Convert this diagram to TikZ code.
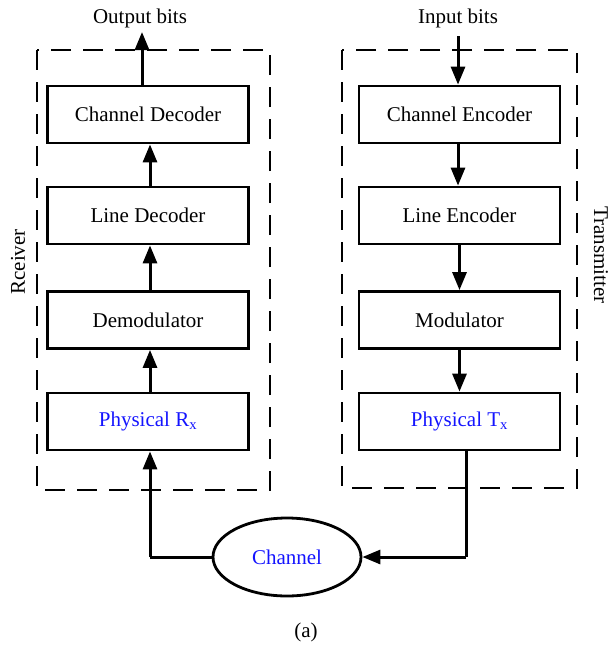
\documentclass[tikz,border=0pt]{standalone}
\usepackage{fontspec}
\setmainfont{Liberation Serif}
\usetikzlibrary{arrows.meta,shapes.geometric}
\definecolor{lblue}{RGB}{20,20,255}
\begin{document}
\begin{tikzpicture}[x=1pt,y=-1pt,
  blk/.style={draw,line width=2.8pt,minimum width=201pt,minimum height=57pt,inner sep=0pt,font=\fontsize{21}{24}\selectfont},
  grp/.style={draw,line width=2.8pt,dash pattern=on 20pt off 12pt},
  con/.style={line width=3pt,-{Triangle[length=18pt,width=14pt]}},
  wire/.style={line width=3pt},
  lbl/.style={font=\fontsize{21}{24}\selectfont,inner sep=0pt}]
\useasboundingbox (0,0) rectangle (613,645);
% groups
\draw[grp] (37,50) rectangle (270,490);
\draw[grp] (342,50) rectangle (577,488);
% receiver column
\node[blk] (cd) at (148,114.5) {Channel Decoder};
\node[blk] (ld) at (148,215.5) {Line Decoder};
\node[blk] (dm) at (148,320) {Demodulator};
\node[blk,text=lblue] (rx) at (148,421.5) {Physical R\textsubscript{x}};
% transmitter column
\node[blk] (ce) at (459.5,114.5) {Channel Encoder};
\node[blk] (le) at (459.5,215.5) {Line Encoder};
\node[blk] (mo) at (459.5,320) {Modulator};
\node[blk,text=lblue] (tx) at (459.5,421.5) {Physical T\textsubscript{x}};
% channel
\node[draw,ellipse,line width=2.8pt,minimum width=148pt,minimum height=78pt,inner sep=0pt,text=lblue,font=\fontsize{21}{24}\selectfont] (ch) at (287,557) {Channel};
% labels
\node[lbl] (ob) at (140,18) {Output bits};
\node[lbl] (ib) at (458,18) {Input bits};
\node[lbl,rotate=90] (rcv) at (18,262) {Rceiver};
\node[lbl,rotate=-90] (trn) at (601,255) {Transmitter};
\node[lbl] (cap) at (306,632) {(a)};
% coordinates
\coordinate (obt) at (142,32);
\coordinate (ibt) at (458,36);
\coordinate (txc) at (466,557);
\coordinate (rxc) at (150,557);
% receiver arrows
\draw[con] (142,86) -- (obt);
\draw[con] ([xshift=2pt]ld.north) -- ([xshift=2pt]cd.south);
\draw[con] ([xshift=2pt]dm.north) -- ([xshift=2pt]ld.south);
\draw[con] ([xshift=2pt]rx.north) -- ([xshift=2pt]dm.south);
% transmitter arrows
\draw[con] (ibt) -- ([xshift=-1.5pt]ce.north);
\draw[con] ([xshift=-1.5pt]ce.south) -- ([xshift=-1.5pt]le.north);
\draw[con] (le.south) -- (mo.north);
\draw[con] (mo.south) -- (tx.north);
% channel links
\draw[wire] ([xshift=6.5pt]tx.south) -- (txc);
\draw[con] (txc) -- (ch.east);
\draw[wire] (ch.west) -- (rxc);
\draw[con] (rxc) -- ([xshift=2pt]rx.south);
\end{tikzpicture}
\end{document}
